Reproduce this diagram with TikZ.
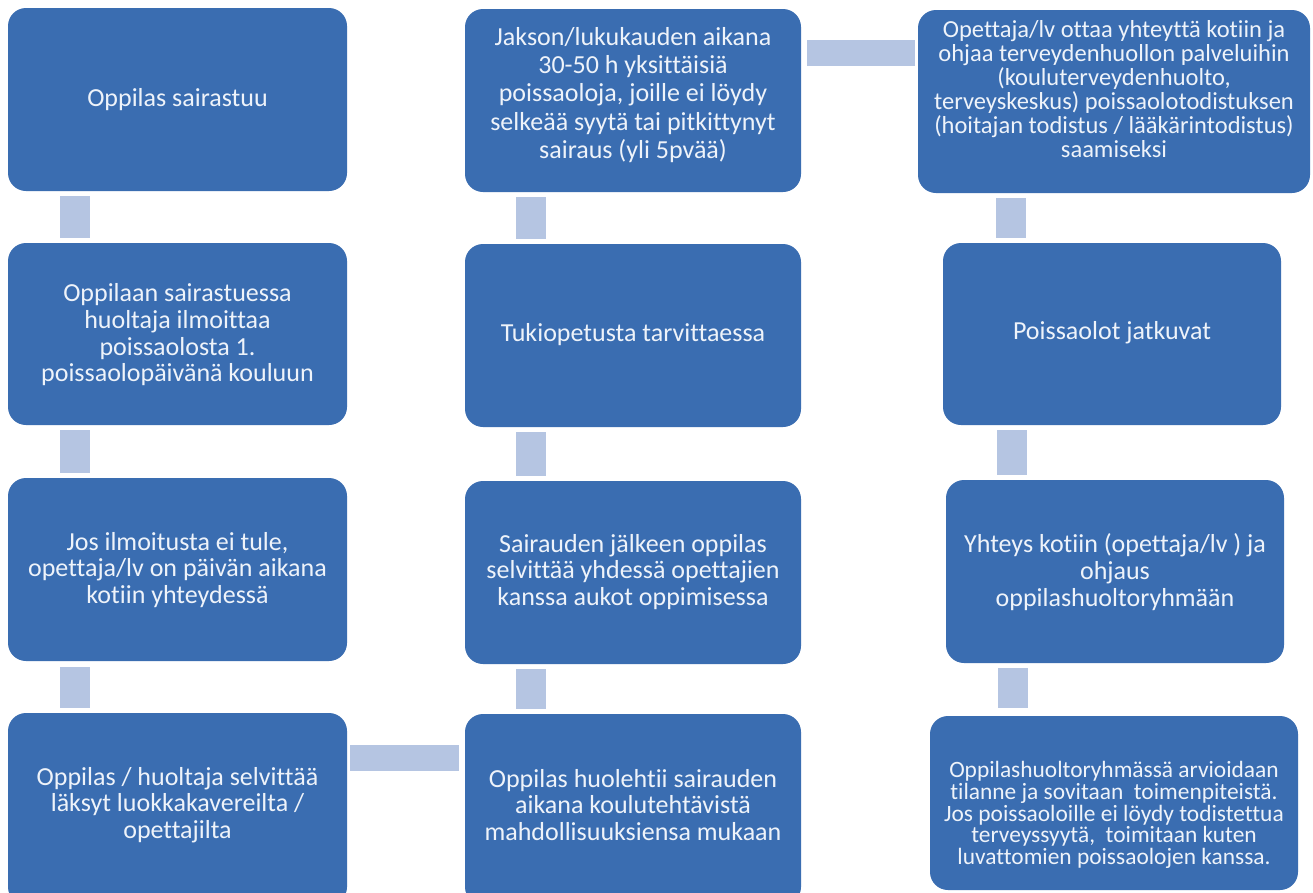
\documentclass[tikz,border=0pt]{standalone}
\usepackage{fontspec}
\setmainfont{Carlito}[Ligatures=NoCommon]
\usetikzlibrary{calc}
\definecolor{boxblue}{HTML}{3A6DB1}
\definecolor{connblue}{HTML}{B5C5E2}
\definecolor{txtwhite}{HTML}{EEF3FA}
\tikzset{
  box/.style={fill=boxblue, draw=none, rounded corners=18pt, inner sep=0pt},
  txt/.style={text=txtwhite, align=center, inner sep=0pt, font=\fontsize{26}{26.7}\selectfont},
  vconn/.style={draw=connblue, line width=30pt, line cap=butt},
  hconn/.style={draw=connblue, line width=26pt, line cap=butt}
}
\begin{document}
\begin{tikzpicture}[x=1pt, y=-1pt]
\useasboundingbox (0,0) rectangle (1313,892);
\clip (0,0) rectangle (1313,892);
\fill[white] (0,0) rectangle (1313,892);
% boxes
\node[box, minimum width=339pt, minimum height=183pt] (a1) at (177.5,99.5) {};
\node[box, minimum width=339pt, minimum height=182pt] (a2) at (177.5,334) {};
\node[box, minimum width=339pt, minimum height=183pt] (a3) at (177.5,569.5) {};
\node[box, minimum width=339pt, minimum height=192pt] (a4) at (177.5,809) {};
\node[box, minimum width=336pt, minimum height=183pt] (b1) at (633,100.5) {};
\node[box, minimum width=336pt, minimum height=183pt] (b2) at (633,335.5) {};
\node[box, minimum width=336pt, minimum height=183pt] (b3) at (633,572.5) {};
\node[box, minimum width=336pt, minimum height=191pt] (b4) at (633,809.5) {};
\node[box, minimum width=392pt, minimum height=183pt] (c1) at (1114,101.5) {};
\node[box, minimum width=338pt, minimum height=182pt] (c2) at (1112,334) {};
\node[box, minimum width=338pt, minimum height=183pt] (c3) at (1115,571.5) {};
\node[box, minimum width=368pt, minimum height=174pt] (c4) at (1114,803) {};
% texts
\node[txt] (ta1) at (177.5,100) {Oppilas sairastuu};
\node[txt] (ta2) at (177.5,335) {Oppilaan sairastuessa\\huoltaja ilmoittaa\\poissaolosta 1.\\poissaolopäivänä kouluun};
\node[txt] (ta3) at (177.5,570) {Jos ilmoitusta ei tule,\\opettaja/lv on päivän aikana\\kotiin yhteydessä};
\node[txt] (ta4) at (177.5,805) {Oppilas / huoltaja selvittää\\läksyt luokkakavereilta /\\opettajilta};
\node[txt, font=\fontsize{26}{28.3}\selectfont] (tb1) at (633,95) {Jakson/lukukauden aikana\\30-50 h yksittäisiä\\poissaoloja, joille ei löydy\\selkeää syytä tai pitkittynyt\\sairaus (yli 5pvää)};
\node[txt] (tb2) at (633,335) {Tukiopetusta tarvittaessa};
\node[txt] (tb3) at (633,572) {Sairauden jälkeen oppilas\\selvittää yhdessä opettajien\\kanssa aukot oppimisessa};
\node[txt] (tb4) at (633,805) {Oppilas huolehtii sairauden\\aikana koulutehtävistä\\mahdollisuuksiensa mukaan};
\node[txt, font=\fontsize{24.5}{24}\selectfont] (tc1) at (1114,89) {Opettaja/lv ottaa yhteyttä kotiin ja\\ohjaa terveydenhuollon palveluihin\\(kouluterveydenhuolto,\\terveyskeskus) poissaolotodistuksen\\(hoitajan todistus / lääkärintodistus)\\saamiseksi};
\node[txt] (tc2) at (1112,333) {Poissaolot jatkuvat};
\node[txt] (tc3) at (1115,572) {Yhteys kotiin (opettaja/lv ) ja\\ohjaus\\oppilashuoltoryhmään};
\node[txt, font=\fontsize{23.4}{21.7}\selectfont] (tc4) at (1114,815) {Oppilashuoltoryhmässä arvioidaan\\tilanne ja sovitaan~ toimenpiteistä.\\Jos poissaoloille ei löydy todistettua\\terveyssyytä,~ toimitaan kuten\\luvattomien poissaolojen kanssa.};
% vertical connectors
\draw[vconn] ($(a1.south west)+(67,5)$) -- ($(a2.north west)+(67,-5)$);
\draw[vconn] ($(a2.south west)+(67,5)$) -- ($(a3.north west)+(67,-5)$);
\draw[vconn] ($(a3.south west)+(67,6)$) -- ($(a4.north west)+(67,-5)$);
\draw[vconn] ($(b1.south west)+(66.5,5)$) -- ($(b2.north west)+(66.5,-5)$);
\draw[vconn] ($(b2.south west)+(66.5,5)$) -- ($(b3.north west)+(66.5,-5)$);
\draw[vconn] ($(b3.south west)+(66.5,5)$) -- ($(b4.north west)+(66.5,-5)$);
\draw[vconn] ($(c1.south west)+(93,5)$) -- ($(c2.north west)+(68,-5)$);
\draw[vconn] ($(c2.south west)+(69,5)$) -- ($(c3.north west)+(66,-5)$);
\draw[vconn] ($(c3.south west)+(67,5)$) -- ($(c4.north west)+(83,-8)$);
% horizontal connectors
\draw[hconn] ($(b1.north east)+(6,44)$) -- ($(c1.north west)+(-3,43)$);
\draw[hconn] ($(a4.north east)+(3,45)$) -- ($(b4.north west)+(-6,44)$);
\end{tikzpicture}
\end{document}
